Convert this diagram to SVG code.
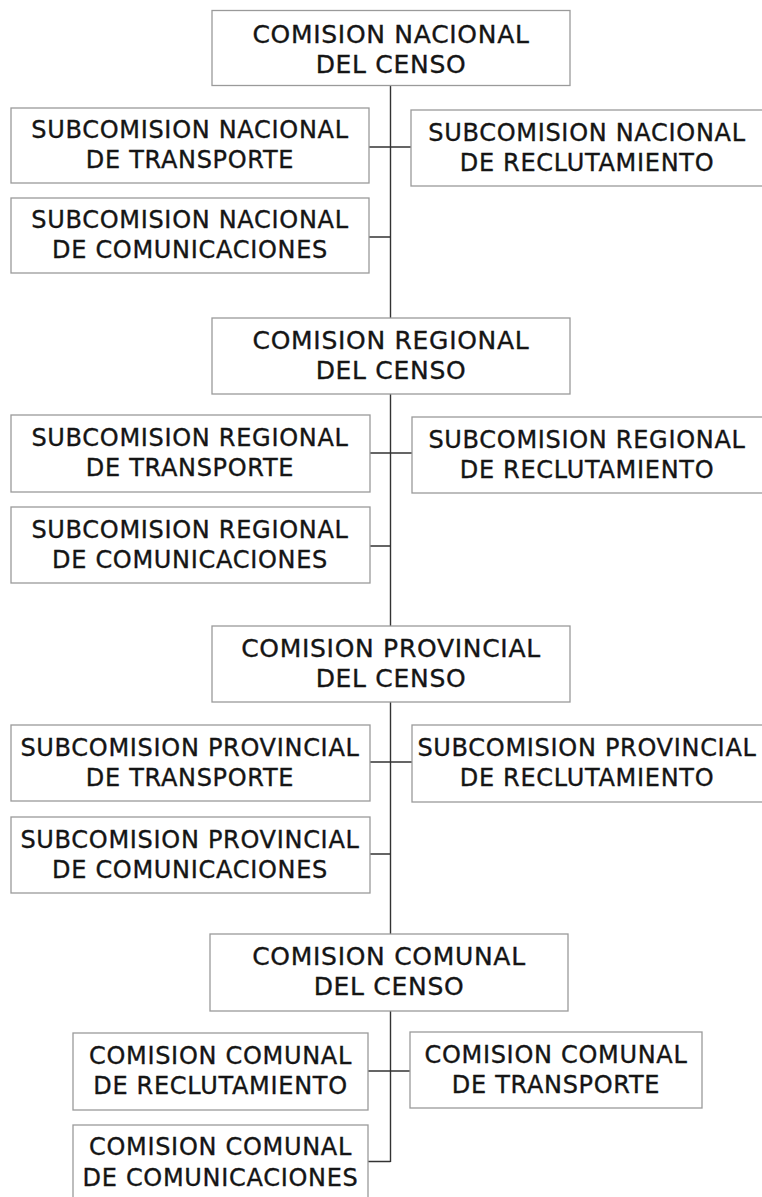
<svg xmlns="http://www.w3.org/2000/svg" width="762" height="1197" viewBox="0 0 762 1197">
<style>
rect{fill:#fff;stroke:#9a9a9a;stroke-width:1.3}
text{font-family:"DejaVu Sans",Verdana,sans-serif;fill:#151515;stroke:#151515;stroke-width:0.35;text-anchor:middle}
.t{font-size:25px;letter-spacing:0.7px}
.s{font-size:24px;letter-spacing:0.7px}
#connectors path{fill:none;stroke:#333;stroke-width:1.4}
</style>
<rect x="0" y="0" width="762" height="1197" style="fill:#fff;stroke:none"/>
<g id="connectors">
<path d="M390.5 85V1162"/>
<path d="M369 147H411M369 237H390.5"/>
<path d="M370 453H412M370 546H390.5"/>
<path d="M370 762H412M370 854H390.5"/>
<path d="M368 1071H410M368 1161.5H390.5"/>
</g>
<g id="n_nacional"><rect x="212" y="10.5" width="358" height="75"/><text class="t" x="391" y="43">COMISION NACIONAL</text><text class="t" x="391" y="73">DEL CENSO</text></g>
<g id="n_nac_transporte"><rect x="11" y="108" width="358" height="75"/><text class="s" x="190" y="138">SUBCOMISION NACIONAL</text><text class="s" x="190" y="168">DE TRANSPORTE</text></g>
<g id="n_nac_reclutamiento"><rect x="411" y="110" width="352" height="76"/><text class="s" x="587" y="141">SUBCOMISION NACIONAL</text><text class="s" x="587" y="171">DE RECLUTAMIENTO</text></g>
<g id="n_nac_comunicaciones"><rect x="11" y="198" width="358" height="75"/><text class="s" x="190" y="228">SUBCOMISION NACIONAL</text><text class="s" x="190" y="258">DE COMUNICACIONES</text></g>

<g id="n_regional"><rect x="212" y="318" width="358" height="76"/><text class="t" x="391" y="349">COMISION REGIONAL</text><text class="t" x="391" y="379">DEL CENSO</text></g>
<g id="n_reg_transporte"><rect x="11" y="415" width="359" height="77"/><text class="s" x="190" y="446">SUBCOMISION REGIONAL</text><text class="s" x="190" y="476">DE TRANSPORTE</text></g>
<g id="n_reg_reclutamiento"><rect x="412" y="417" width="351" height="76"/><text class="s" x="587" y="448">SUBCOMISION REGIONAL</text><text class="s" x="587" y="478">DE RECLUTAMIENTO</text></g>
<g id="n_reg_comunicaciones"><rect x="11" y="507" width="359" height="76"/><text class="s" x="190" y="538">SUBCOMISION REGIONAL</text><text class="s" x="190" y="568">DE COMUNICACIONES</text></g>

<g id="n_provincial"><rect x="212" y="626" width="358" height="76"/><text class="t" x="391" y="657">COMISION PROVINCIAL</text><text class="t" x="391" y="687">DEL CENSO</text></g>
<g id="n_prov_transporte"><rect x="11" y="725" width="359" height="76"/><text class="s" x="190" y="756">SUBCOMISION PROVINCIAL</text><text class="s" x="190" y="786">DE TRANSPORTE</text></g>
<g id="n_prov_reclutamiento"><rect x="412" y="725" width="351" height="77"/><text class="s" x="587" y="756">SUBCOMISION PROVINCIAL</text><text class="s" x="587" y="786">DE RECLUTAMIENTO</text></g>
<g id="n_prov_comunicaciones"><rect x="11" y="817" width="359" height="76"/><text class="s" x="190" y="848">SUBCOMISION PROVINCIAL</text><text class="s" x="190" y="878">DE COMUNICACIONES</text></g>

<g id="n_comunal"><rect x="210" y="934" width="358" height="77"/><text class="t" x="389" y="965">COMISION COMUNAL</text><text class="t" x="389" y="995">DEL CENSO</text></g>
<g id="n_com_reclutamiento"><rect x="73" y="1033" width="295" height="77"/><text class="s" x="220.5" y="1064">COMISION COMUNAL</text><text class="s" x="220.5" y="1094">DE RECLUTAMIENTO</text></g>
<g id="n_com_transporte"><rect x="410" y="1032" width="292" height="76"/><text class="s" x="556" y="1063">COMISION COMUNAL</text><text class="s" x="556" y="1093">DE TRANSPORTE</text></g>
<g id="n_com_comunicaciones"><rect x="73" y="1125" width="295" height="90"/><text class="s" x="220.5" y="1155">COMISION COMUNAL</text><text class="s" x="220.5" y="1186">DE COMUNICACIONES</text></g>
</svg>
